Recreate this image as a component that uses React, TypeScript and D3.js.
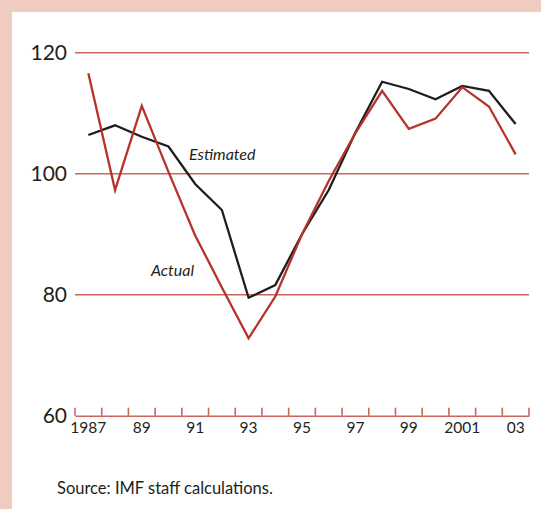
import * as d3 from 'd3';
import React, { useEffect, useRef } from 'react';

const years = d3.range(1987, 2004);
const actual = [116.6, 97.3, 111.2, 100.3, 89.8, 81.2, 72.8, 79.7, 90.0, 98.8, 106.7, 113.7, 107.4, 109.1, 114.3, 111.1, 103.2];
const estimated = [106.4, 108.0, 106.1, 104.5, 98.3, 94.0, 79.5, 81.6, 90.0, 97.3, 106.8, 115.2, 114.0, 112.3, 114.5, 113.7, 108.2];
const yTicks = [60, 80, 100, 120];
const xLabels: Record<number, string> = { 1987: '1987', 1989: '89', 1991: '91', 1993: '93', 1995: '95', 1997: '97', 1999: '99', 2001: '2001', 2003: '03' };

const width = 541;
const height = 509;
const margin = { top: 52.7, right: 12, bottom: 93.3, left: 75 };
const font = "'Lato', 'Open Sans', sans-serif";

export default function App() {
  const ref = useRef<SVGSVGElement>(null);

  useEffect(() => {
    const svg = d3.select(ref.current);
    svg.selectAll('*').remove();

    // background frame
    svg.append('rect').attr('width', width).attr('height', height).attr('fill', '#F0CBBF');
    svg.append('rect').attr('x', 12).attr('y', 12).attr('width', width - 12).attr('height', height - 12).attr('fill', '#fff');

    const x = d3.scaleBand<number>()
      .domain(years)
      .range([margin.left, width - margin.right]);

    const y = d3.scaleLinear()
      .domain([60, 120])
      .range([height - margin.bottom, margin.top]);

    // gridlines
    svg.append('g')
      .selectAll('line')
      .data(yTicks.filter(d => d > 60))
      .join('line')
      .attr('x1', margin.left)
      .attr('x2', width - margin.right)
      .attr('y1', d => y(d))
      .attr('y2', d => y(d))
      .attr('stroke', '#C9675F')
      .attr('stroke-width', 1.6);

    // y labels
    svg.append('g')
      .selectAll('text')
      .data(yTicks)
      .join('text')
      .attr('x', 67)
      .attr('y', d => y(d))
      .attr('dy', '0.36em')
      .attr('text-anchor', 'end')
      .attr('font-family', font)
      .attr('font-size', 21)
      .attr('fill', '#231f20')
      .text(d => d);

    // x axis
    const xAxis = d3.axisBottom(x)
      .tickSizeInner(0)
      .tickSizeOuter(0)
      .tickFormat(d => xLabels[d as number] || '');

    const gx = svg.append('g')
      .attr('transform', `translate(0,${y(60)})`)
      .call(xAxis);
    gx.select('.domain').attr('stroke', '#C9675F').attr('stroke-width', 1.6);
    gx.selectAll('text')
      .attr('font-family', font)
      .attr('font-size', 15.5)
      .attr('fill', '#231f20')
      .attr('dy', '0.95em');

    const tickPos = years.map(d => x(d)!).concat([width - margin.right]);
    svg.append('g')
      .selectAll('line')
      .data(tickPos)
      .join('line')
      .attr('x1', d => d)
      .attr('x2', d => d)
      .attr('y1', y(60))
      .attr('y2', y(60) - 8)
      .attr('stroke', '#C9675F')
      .attr('stroke-width', 1.6);

    const line = d3.line<number>()
      .x((d, i) => x(years[i])! + x.bandwidth() / 2)
      .y(d => y(d));

    svg.append('path')
      .datum(estimated)
      .attr('d', line)
      .attr('fill', 'none')
      .attr('stroke', '#1e1e1e')
      .attr('stroke-width', 2.3);

    svg.append('path')
      .datum(actual)
      .attr('d', line)
      .attr('fill', 'none')
      .attr('stroke', '#B5332A')
      .attr('stroke-width', 2.3);

    svg.append('text')
      .attr('x', 189)
      .attr('y', 160)
      .attr('font-family', font)
      .attr('font-style', 'italic')
      .attr('font-size', 16)
      .attr('fill', '#231f20')
      .text('Estimated');

    svg.append('text')
      .attr('x', 151)
      .attr('y', 276)
      .attr('font-family', font)
      .attr('font-style', 'italic')
      .attr('font-size', 16)
      .attr('fill', '#231f20')
      .text('Actual');

    svg.append('text')
      .attr('x', 57)
      .attr('y', 494)
      .attr('font-family', font)
      .attr('font-size', 16.5)
      .attr('fill', '#231f20')
      .text('Source: IMF staff calculations.');
  }, []);

  return <svg ref={ref} width={width} height={height} style={{ position: 'absolute', left: 0, top: 0 }} />;
}
